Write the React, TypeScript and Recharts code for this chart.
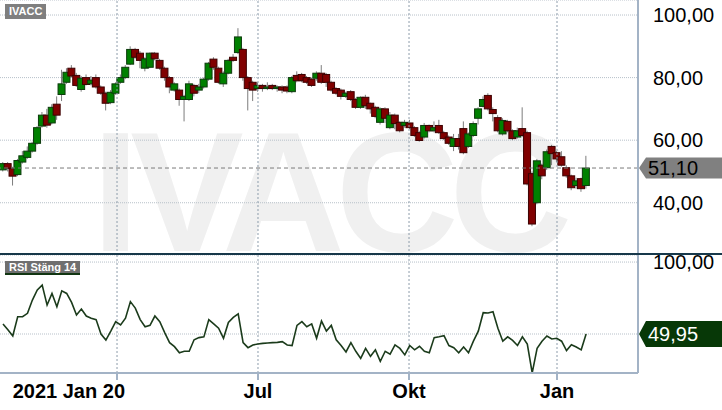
import React from 'react'
import {
  ComposedChart,
  LineChart,
  Bar,
  Line,
  XAxis,
  YAxis,
  CartesianGrid,
  ReferenceLine
} from 'recharts'

// one candle per step: [open, high, low, close]
const candles: [number, number, number, number][] = [
  [50.5, 53, 50, 52.5], [52.5, 53, 50, 51], [51, 51.5, 45.5, 48.5], [49, 54, 48.5, 53.5],
  [53, 56.5, 52.5, 55], [54.5, 58, 54, 56.5], [56.5, 59.5, 56, 59], [59, 64.5, 58.5, 64],
  [64.5, 69, 64, 68], [68, 70, 64, 64.8], [65.5, 71.5, 65, 70.5], [71.5, 74, 66.5, 68],
  [74.6, 82.5, 72.5, 78], [78.5, 83, 78, 81.7], [83, 84, 80, 80.5], [80.7, 81.5, 77, 77.5],
  [76.2, 80.5, 75.5, 79.8], [80, 81, 77.5, 77.8], [78, 80.5, 77.5, 79.2], [80, 81, 76.5, 77],
  [77, 77.5, 74.5, 75], [75, 75.5, 69.5, 71.8], [72, 76, 71.5, 75.3], [75, 78.5, 74.5, 78],
  [78.5, 81, 78, 80], [80, 84, 79.5, 83.3], [84.3, 90, 84, 89], [89, 89.5, 86, 86.5],
  [87.8, 88.5, 83, 85.5], [83, 86.5, 82, 86], [83.3, 88, 83, 87.8], [87.8, 88.2, 85.5, 86],
  [85.5, 86, 82.5, 83], [83, 83.5, 79, 80], [80, 80.5, 75, 77], [76, 78.5, 75.5, 78],
  [76, 76.5, 71, 73], [73, 74.5, 66, 74], [73, 79, 72.5, 78], [77.5, 78, 74, 75],
  [76, 78, 75, 77], [77, 80, 76.5, 79.5], [79.5, 85, 79, 84.6], [85.9, 86.5, 82.5, 83.3],
  [83, 83.5, 78, 78.5], [78, 82, 77, 81.4], [81.4, 86, 81, 85.5], [86.5, 87.5, 85, 85.5],
  [88, 95.8, 87.5, 93], [89, 89.5, 79, 80], [80, 80.5, 69.5, 76.5], [78.5, 79, 72.5, 76],
  [76.5, 78.5, 75.5, 77.5], [77.5, 78, 75.5, 76.5], [76.5, 78.5, 76, 77], [77.5, 78, 76, 76.5],
  [76.5, 77.5, 75.5, 77], [77, 77.5, 75, 76], [77, 77.5, 75, 75.7], [75.5, 80.5, 75, 80],
  [80.7, 82, 78.5, 79], [81, 81.5, 78.5, 79], [80, 80.5, 78, 78.5], [79.5, 80, 77, 77.5],
  [79.8, 82, 79, 81.4], [81.4, 84, 78, 78.5], [81, 81.5, 77, 78.5], [78.5, 79, 75.5, 76],
  [76.5, 77, 74.5, 75], [76, 76.5, 73, 74], [74, 75.5, 73.5, 75], [75.5, 76, 72.5, 73],
  [73, 73.5, 70, 70.5], [70.5, 74, 70, 73.7], [73.7, 74.5, 70, 71], [71.8, 72, 68.5, 70],
  [70.5, 71, 67, 67.6], [65.7, 70.5, 65, 70], [70, 70.5, 65.5, 67], [64, 69, 63.5, 68],
  [68, 68.5, 63.5, 65.3], [65.7, 66, 62.5, 63], [64.7, 66.5, 64, 65.7], [65.5, 66.5, 63.5, 64],
  [64, 64.5, 61, 61.5], [62.4, 63, 59.5, 59.9], [61, 65.5, 60.5, 64.7], [64.7, 65, 62.5, 63],
  [63, 66, 62.5, 64], [64.7, 66.5, 62, 62.4], [62.4, 63, 60, 60.5], [61, 61.5, 58.5, 59],
  [58, 62, 56.5, 60.5], [60.5, 62, 57, 58], [63.7, 66, 55.5, 56], [58, 62.5, 57.5, 62],
  [61.5, 66, 61, 65.3], [67, 70.5, 65, 70], [70.8, 74, 70.5, 73], [74.3, 75, 69.5, 70],
  [69.8, 70.5, 66, 68.5], [67.2, 68, 62.5, 63], [62, 67, 61.5, 66.3], [66, 66.5, 62.5, 63],
  [63, 63.5, 60, 60.5], [61, 64, 60.5, 63], [63.7, 70.5, 61, 61.5], [62.4, 63, 45.5, 46],
  [49.3, 50, 32.5, 33.2], [40, 54, 39.5, 53.4], [52, 52.5, 47.5, 48.6], [51.2, 57, 50.5, 56.3],
  [58, 58.5, 52, 55.7], [56, 56.5, 53, 54], [54.7, 56.5, 51.5, 52], [51.2, 52, 48, 48.6],
  [48.6, 49, 44, 44.8], [45.5, 48, 44.5, 47], [47.7, 48, 43.5, 44.5], [45.5, 55, 44.5, 51.1]
]

const rsi = [
  57, 53, 48.6, 62, 62, 64.4, 73.6, 80.6, 84, 70.1,
  78.2, 69, 80, 78.2, 72, 63.2, 67.4, 62.5, 61, 60,
  50, 45.8, 52, 58.6, 56.3, 61, 72.5, 68, 60, 55,
  56, 62.5, 58.6, 51, 44, 41.2, 37, 38, 38, 46,
  47.5, 48, 60, 57, 54, 47, 58, 61.5, 64, 44,
  40.5, 42.4, 43, 43.5, 43.8, 44, 44.2, 44.7, 42.4, 42,
  56, 58.6, 55, 57, 47, 59, 52, 56, 46, 42,
  37.5, 44, 38, 33, 40, 34.5, 39, 31, 38, 36,
  42.4, 40, 35.5, 42, 39, 41.5, 38, 37, 47.5, 48.1,
  48.8, 42, 40.5, 37, 41, 37, 45, 52, 64.8, 64.6,
  65.5, 54, 45, 48, 45.5, 42, 48, 43, 23, 40,
  45, 48.6, 46.5, 47, 45, 38.5, 42.5, 41, 39, 49.95
]

const priceTicks = [40, 60, 80, 100]
const rsiTicks = [50, 100]
const dateTicks = [23.27, 52.04, 82.86, 113.06]
const dateLabels = ['2021 Jan 20', 'Jul', 'Okt', 'Jan']
const lastPrice = 51.1
const lastRsi = 49.95

const xDomain: [number, number] = [-0.61, 129.59]
const FONT = '"Liberation Sans", Arial, sans-serif'
const AXIS = '#a3b3c6'

const data = candles.map((c, i) => ({ i, o: c[0], h: c[1], l: c[2], c: c[3], rsi: rsi[i] }))

const fmt = (v: number) => v.toFixed(2).replace('.', ',')

const Candle = (props: any) => {
  const { x, y, width, height, payload } = props
  const { o, h, l, c } = payload
  const cx = x + width / 2
  const k = h === l ? 0 : height / (h - l)
  const yO = y + (h - o) * k
  const yC = y + (h - c) * k
  const up = c >= o
  const top = Math.min(yO, yC)
  const bh = Math.max(Math.abs(yO - yC), 1)
  return (
    <g>
      <line x1={cx} x2={cx} y1={y} y2={y + height} stroke="#7d7d7d" strokeWidth={1} />
      <rect
        x={cx - 3.5}
        y={top}
        width={7}
        height={bh}
        fill={up ? '#008000' : '#800000'}
        stroke={up ? '#0c3a0c' : '#3c0000'}
        strokeWidth={1}
      />
    </g>
  )
}

const PriceTick = (props: any) => {
  const { x, y, payload } = props
  return (
    <text x={x + 7} y={y} dominantBaseline="central" fontSize={20} fill="#000" fontFamily={FONT}>
      {fmt(payload.value)}
    </text>
  )
}

const RsiTick = (props: any) => {
  const { x, y, payload } = props
  if (payload.value !== 100) return null
  return (
    <text x={x + 7} y={y} dominantBaseline="central" fontSize={20} fill="#000" fontFamily={FONT}>
      {fmt(payload.value)}
    </text>
  )
}

const DateTick = (props: any) => {
  const { x, y, index } = props
  const first = index === 0
  return (
    <text
      x={first ? x + 8 : x}
      y={y + 16}
      textAnchor={first ? 'end' : 'middle'}
      fontSize={20}
      fontWeight="bold"
      fill="#000"
      fontFamily={FONT}
    >
      {dateLabels[index]}
    </text>
  )
}

const tag = (text: string, fill: string, color: string, h: number) => (p: any) => {
  const { x, y, width } = p.viewBox
  const x0 = x + width + 1
  return (
    <g>
      <polygon
        points={`${x0},${y} ${x0 + 7},${y - h / 2} 722,${y - h / 2} 722,${y + h / 2} ${x0 + 7},${y + h / 2}`}
        fill={fill}
      />
      <text x={x0 + 9} y={y} dominantBaseline="central" fontSize={20} fill={color} fontFamily={FONT}>
        {text}
      </text>
    </g>
  )
}

export default function App() {
  return (
    <div style={{ position: 'absolute', left: 0, top: 0, width: 722, height: 410, background: '#fff', fontFamily: FONT }}>
      {/* watermark */}
      <svg width={722} height={300} style={{ position: 'absolute', left: 0, top: 0 }}>
        <text x={92} y={251} fontSize={170} fontWeight="bold" fill="#f0f0f0" letterSpacing={-9} fontFamily={FONT}>
          IVACC
        </text>
      </svg>

      <div style={{ position: 'absolute', left: 0, top: 0 }}>
        <ComposedChart width={722} height={255} data={data} margin={{ top: 0, right: 0, bottom: 0, left: 0 }}>
          <CartesianGrid vertical={false} stroke="#b7c0c9" strokeDasharray="1 1" />
          <XAxis dataKey="i" type="number" domain={xDomain} hide />
          <YAxis
            orientation="right"
            width={84}
            domain={[23.3, 104.8]}
            ticks={priceTicks}
            axisLine={{ stroke: AXIS, strokeWidth: 2 }}
            tickLine={false}
            tick={<PriceTick />}
          />
          {dateTicks.map(t => (
            <ReferenceLine key={t} x={t} stroke="#8d9cab" strokeDasharray="2 2" />
          ))}
          <ReferenceLine y={lastPrice} stroke="#7a7a7a" strokeDasharray="4 3" label={tag(fmt(lastPrice), '#808080', '#000', 21)} />
          <Bar dataKey={(d: any) => [d.l, d.h]} shape={<Candle />} barSize={7} isAnimationActive={false} />
        </ComposedChart>
      </div>

      <div style={{ position: 'absolute', left: 0, top: 245 }}>
        <LineChart width={722} height={165} data={data} margin={{ top: 10, right: 0, bottom: 0, left: 0 }}>
          <CartesianGrid vertical={false} stroke="#b7c0c9" strokeDasharray="1 1" />
          <XAxis
            dataKey="i"
            type="number"
            domain={xDomain}
            ticks={dateTicks}
            interval={0}
            height={37}
            axisLine={{ stroke: AXIS, strokeWidth: 2 }}
            tickLine={{ stroke: AXIS, strokeWidth: 2 }}
            tickSize={7}
            tick={<DateTick />}
          />
          <YAxis
            orientation="right"
            width={84}
            domain={[22.9, 104.9]}
            ticks={rsiTicks}
            axisLine={{ stroke: AXIS, strokeWidth: 2 }}
            tickLine={false}
            tick={<RsiTick />}
          />
          {dateTicks.map(t => (
            <ReferenceLine key={t} x={t} stroke="#8d9cab" strokeDasharray="2 2" />
          ))}
          <Line dataKey="rsi" stroke="#1b3b1b" strokeWidth={1.6} dot={false} isAnimationActive={false} />
          <ReferenceLine y={lastRsi} stroke="none" label={tag(fmt(lastRsi), '#073807', '#fff', 26)} />
        </LineChart>
      </div>

      {/* panel separator */}
      <div style={{ position: 'absolute', left: 0, top: 253, width: 722, height: 2, background: '#17384a' }} />

      <div style={{ position: 'absolute', left: 5, top: 4, height: 15, padding: '0 4px', background: '#7f7f7f', color: '#fff', fontSize: 11, fontWeight: 'bold', lineHeight: '15px' }}>
        IVACC
      </div>
      <div style={{ position: 'absolute', left: 5, top: 261, height: 12, padding: '0 4px', background: '#6f6f6f', color: '#fff', fontSize: 11, fontWeight: 'bold', lineHeight: '12px', borderBottom: '2px solid #123612' }}>
        RSI Stäng 14
      </div>
    </div>
  )
}
